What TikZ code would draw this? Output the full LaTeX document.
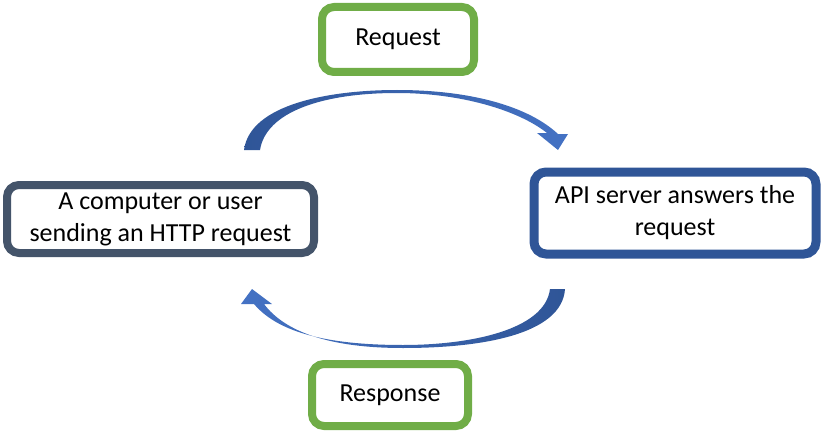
\documentclass[tikz,border=0pt]{standalone}
\usepackage{fontspec}
\setmainfont{Carlito}
\usepackage{xcolor}
\usetikzlibrary{positioning}
\definecolor{labelgreen}{HTML}{70AD47}
\definecolor{clientgray}{HTML}{44546A}
\definecolor{serverblue}{HTML}{2F5597}
\definecolor{arrowblue}{HTML}{4472C4}

\tikzset{
  stepbox/.style={draw,rounded corners=12pt,fill=white,align=center,
    inner sep=0pt,font=\fontsize{26}{32}\selectfont},
  labelbox/.style={stepbox,draw=labelgreen,line width=8pt},
}

\begin{document}
\begin{tikzpicture}[x=1pt,y=-1pt]
  \useasboundingbox (0,0) rectangle (825,436);
  % boxes
  \node[labelbox,minimum width=152pt,minimum height=65pt] (req) at (398,39.5) {Request};
  \node[labelbox,minimum width=156pt,minimum height=62pt] (resp) at (390,395) {Response};
  \node[stepbox,draw=clientgray,line width=8pt,minimum width=307pt,minimum height=68pt]
    (client) at (160.5,219) {A computer or user\\sending an HTTP request};
  \node[stepbox,draw=serverblue,line width=9pt,minimum width=282pt,minimum height=82pt]
    (server) at (675,213) {API server answers the\\request};
  % curved arrows
  \shade[left color=serverblue,right color=arrowblue]
    (244,150) .. controls (250,104) and (330,90) .. (397,90)
    .. controls (470,90) and (528,106) .. (558,134)
    -- (568,134) -- (558,150) -- (537,133) -- (547,133)
    .. controls (518,110) and (460,93) .. (397,93)
    .. controls (322,93) and (266,112) .. (260,150) -- cycle;
  \shade[right color=serverblue,left color=arrowblue]
    (565,289) .. controls (562,335) and (480,348) .. (403,348)
    .. controls (330,348) and (285,332) .. (264,304)
    -- (272,304) -- (252,289) -- (241,304) -- (254,304)
    .. controls (280,335) and (335,345) .. (403,345)
    .. controls (470,345) and (545,330) .. (550,289) -- cycle;
\end{tikzpicture}
\end{document}
